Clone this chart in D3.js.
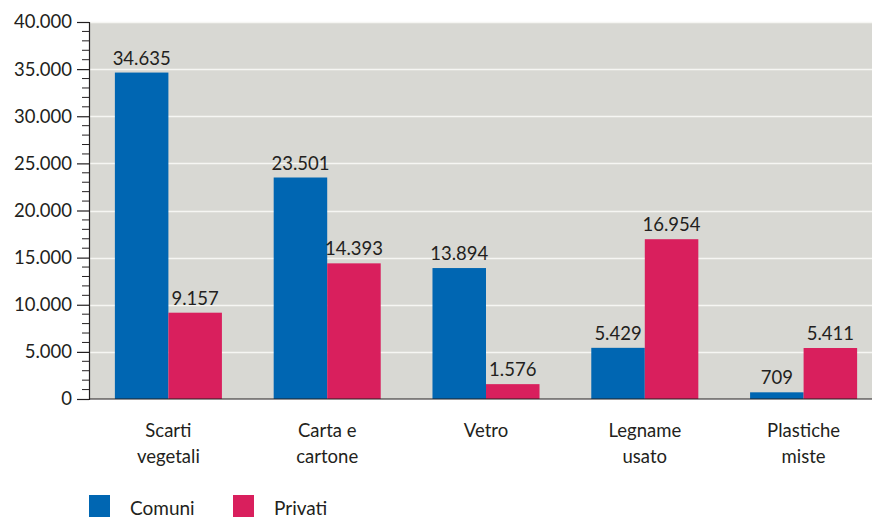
<!DOCTYPE html>
<html>
<head>
<meta charset="utf-8">
<script src="https://cdn.jsdelivr.net/npm/d3@7"></script>
<style>
  body { margin: 0; background: #fff; }
  svg { display: block; font-family: "Lato", "Open Sans", sans-serif; }
</style>
</head>
<body>
<div id="chart"></div>
<script>
const categories = [["Scarti", "vegetali"], ["Carta e", "cartone"], ["Vetro"], ["Legname", "usato"], ["Plastiche", "miste"]];
const comuni = [34635, 23501, 13894, 5429, 709];
const privati = [9157, 14393, 1576, 16954, 5411];
const seriesNames = ["Comuni", "Privati"];
const yTicks = [0, 5000, 10000, 15000, 20000, 25000, 30000, 35000, 40000];

const width = 872, height = 517;
const margin = { top: 22, right: 0, bottom: 118, left: 89 };

const colors = { Comuni: "#0066b2", Privati: "#d91f5d" };
const locale = d3.formatLocale({ decimal: ",", thousands: ".", grouping: [3], currency: ["€", ""] });
const fmt = locale.format(",d");

const rows = categories.map((c, i) => ({ key: c.join(" "), lines: c, Comuni: comuni[i], Privati: privati[i] }));

const svg = d3.select("#chart").append("svg")
    .attr("width", width)
    .attr("height", height);

// the band range runs a little past the right edge, like the original
const x = d3.scaleBand()
    .domain(rows.map(d => d.key))
    .range([margin.left, 883])
    .paddingInner(0.326)
    .paddingOuter(0.163);

const x1 = d3.scaleBand()
    .domain(seriesNames)
    .range([0, x.bandwidth()]);

const y = d3.scaleLinear()
    .domain([0, 40000])
    .range([height - margin.bottom, margin.top]);

// background
svg.append("rect")
    .attr("x", margin.left)
    .attr("y", margin.top)
    .attr("width", width - margin.right - margin.left)
    .attr("height", y(0) - margin.top)
    .attr("fill", "#d8d8d3");

// gridlines
svg.append("g")
    .selectAll("line")
    .data(yTicks.slice(1))
    .enter()
    .append("line")
    .attr("x1", margin.left)
    .attr("x2", width)
    .attr("y1", d => Math.round(y(d)) + 0.5)
    .attr("y2", d => Math.round(y(d)) + 0.5)
    .attr("stroke", "#f6f6f3")
    .attr("stroke-width", 1.5);

// bars
const groups = svg.append("g")
    .selectAll("g")
    .data(rows)
    .enter()
    .append("g")
    .attr("transform", d => `translate(${x(d.key)},0)`);

groups.selectAll("rect")
    .data(d => seriesNames.map(s => ({ s, v: d[s] })))
    .enter()
    .append("rect")
    .attr("x", d => x1(d.s))
    .attr("width", x1.bandwidth())
    .attr("y", d => y(d.v))
    .attr("height", d => y(0) - y(d.v))
    .attr("fill", d => colors[d.s]);

groups.selectAll("text.val")
    .data(d => seriesNames.map(s => ({ s, v: d[s] })))
    .enter()
    .append("text")
    .attr("class", "val")
    .attr("x", d => x1(d.s) + x1.bandwidth() / 2)
    .attr("y", d => y(d.v) - 8)
    .attr("text-anchor", "middle")
    .style("font-size", "18.5px")
    .attr("fill", "#231f20")
    .text(d => fmt(d.v));

// y axis
const yAxis = svg.append("g")
    .attr("transform", `translate(${margin.left},0)`)
    .call(d3.axisLeft(y).tickValues(yTicks).tickFormat(fmt).tickSize(12).tickPadding(5));
yAxis.select(".domain").attr("stroke", "#231f20").attr("stroke-width", 1.2);
yAxis.selectAll(".tick line").attr("stroke", "#231f20").attr("stroke-width", 1.2);
yAxis.selectAll(".tick text")
    .style("font-size", "18.5px")
    .style("font-family", "Lato, sans-serif")
    .attr("fill", "#231f20");

// minor ticks
svg.append("g")
    .selectAll("line")
    .data(d3.range(0, 40001, 1000).filter(d => d % 5000 !== 0))
    .enter()
    .append("line")
    .attr("x1", margin.left - 7)
    .attr("x2", margin.left)
    .attr("y1", d => y(d))
    .attr("y2", d => y(d))
    .attr("stroke", "#231f20")
    .attr("stroke-width", 1);

// baseline
svg.append("line")
    .attr("x1", margin.left)
    .attr("x2", width)
    .attr("y1", y(0))
    .attr("y2", y(0))
    .attr("stroke", "#231f20")
    .attr("stroke-width", 1.2);

// category labels
const catLabels = svg.append("g")
    .selectAll("text")
    .data(rows)
    .enter()
    .append("text")
    .attr("x", d => x(d.key) + x.bandwidth() / 2)
    .attr("y", 437)
    .attr("text-anchor", "middle")
    .style("font-size", "18.5px")
    .attr("fill", "#231f20");

catLabels.selectAll("tspan")
    .data(d => d.lines)
    .enter()
    .append("tspan")
    .attr("x", function () { return d3.select(this.parentNode).attr("x"); })
    .attr("dy", (d, i) => i === 0 ? 0 : 26)
    .text(d => d);

// legend
const legend = svg.append("g")
    .attr("transform", `translate(${margin.left}, 495)`);

const legendItems = legend.selectAll("g")
    .data(seriesNames)
    .enter()
    .append("g")
    .attr("transform", (d, i) => `translate(${i * 144}, 0)`);

legendItems.append("rect")
    .attr("width", 21)
    .attr("height", 22)
    .attr("fill", d => colors[d]);

legendItems.append("text")
    .attr("x", 41)
    .attr("y", 20)
    .style("font-size", "19px")
    .attr("fill", "#231f20")
    .text(d => d);
</script>
</body>
</html>
